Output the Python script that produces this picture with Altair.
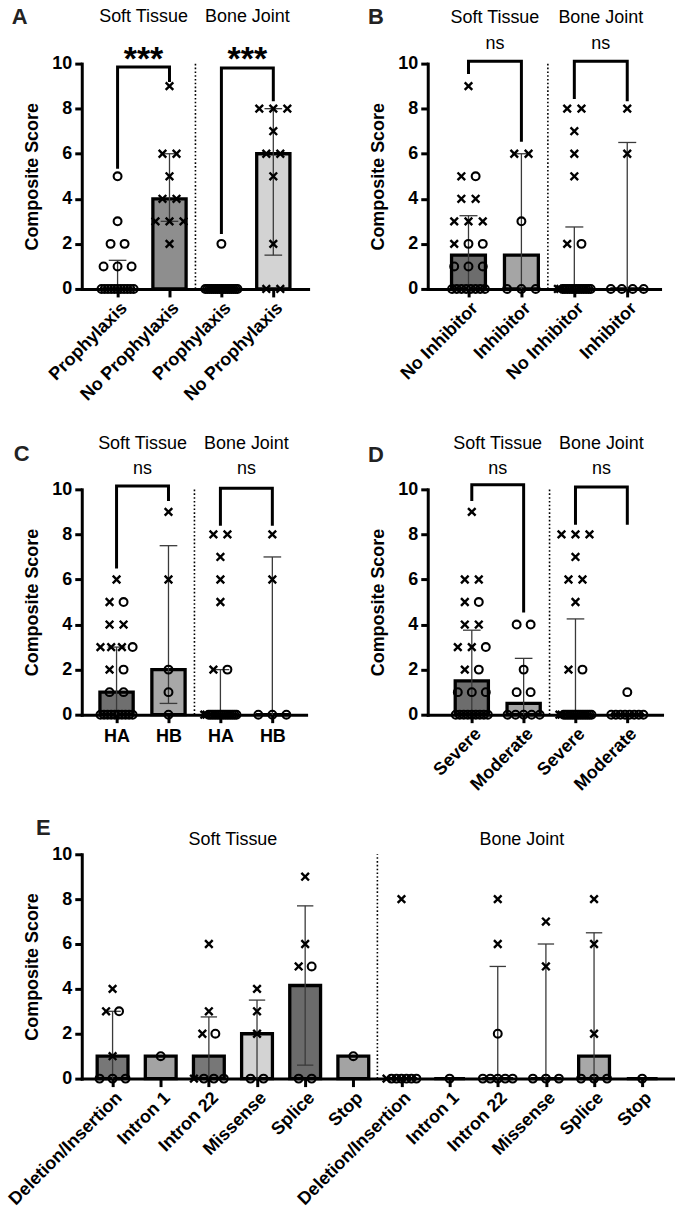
import json
from collections import OrderedDict

import altair as alt
import pandas as pd

FONT = "Liberation Sans"

# ---------------- A: prophylaxis ----------------
A_labels = ["Prophylaxis", "No Prophylaxis", "Prophylaxis", "No Prophylaxis"]
A_median = [0, 4, 0, 6]
A_q1 = [0, 3, 0, 1.5]
A_q3 = [1.27, 6, 0, 8]
A_cross = [[], [9, 6, 6, 5, 4, 4, 3, 3, 3, 2], [], [8, 8, 8, 7, 6, 6, 5, 2, 0, 0]]
A_circle = [
    [5, 3, 2, 2, 1, 1, 1, 0, 0, 0, 0, 0, 0, 0, 0, 0, 0, 0],
    [],
    [2, 0, 0, 0, 0, 0, 0, 0, 0, 0, 0, 0, 0, 0, 0, 0, 0, 0],
    [],
]
A_sig = ["***", "***"]
# bracket: [left leg bottom, top, right leg bottom]
A_bracket = [[5.4, 9.85, 9.25], [2.5, 9.8, 8.4]]

# ---------------- B: inhibitor ----------------
B_labels = ["No Inhibitor", "Inhibitor", "No Inhibitor", "Inhibitor"]
B_median = [1.5, 1.5, 0, 0]
B_q1 = [0, 0, 0, 0]
B_q3 = [3.25, 6, 2.75, 6.5]
B_cross = [[9, 5, 4, 4, 3, 3, 3, 2], [6, 6], [8, 8, 7, 6, 5, 2, 0, 0], [8, 6]]
B_circle = [
    [5, 2, 2, 1, 1, 1, 0, 0, 0, 0, 0, 0, 0, 0],
    [3, 0, 0, 0],
    [2, 0, 0, 0, 0, 0, 0, 0, 0, 0, 0, 0, 0, 0],
    [0, 0, 0, 0],
]
B_sig = ["ns", "ns"]
B_bracket = [[9.6, 10.1, 6.6], [8.5, 10.1, 8.4]]

# ---------------- C: haemophilia type ----------------
C_labels = ["HA", "HB", "HA", "HB"]
C_median = [1, 2, 0, 0]
C_q1 = [0, 0.5, 0, 0]
C_q3 = [3, 7.5, 2, 7]
C_cross = [[6, 5, 4, 4, 3, 3, 3, 2], [9, 6], [8, 8, 7, 6, 5, 2, 0, 0], [8, 6]]
C_circle = [
    [5, 3, 2, 1, 1, 0, 0, 0, 0, 0, 0, 0, 0, 0, 0],
    [2, 1, 0],
    [2, 0, 0, 0, 0, 0, 0, 0, 0, 0, 0, 0, 0, 0, 0],
    [0, 0, 0],
]
C_sig = ["ns", "ns"]
C_bracket = [[6.55, 10.15, 9.55], [8.45, 10.05, 8.45]]

# ---------------- D: severity ----------------
D_labels = ["Severe", "Moderate", "Severe", "Moderate"]
D_median = [1.5, 0.5, 0, 0]
D_q1 = [0, 0, 0, 0]
D_q3 = [3.75, 2.5, 4.25, 0]
D_cross = [[9, 6, 6, 5, 4, 4, 3, 3, 2], [], [8, 8, 8, 7, 6, 6, 5, 2, 0, 0], []]
D_circle = [
    [5, 3, 2, 1, 1, 1, 0, 0, 0, 0, 0, 0, 0, 0, 0],
    [4, 4, 2, 1, 1, 0, 0, 0, 0, 0],
    [2, 0, 0, 0, 0, 0, 0, 0, 0, 0, 0, 0, 0, 0, 0],
    [1, 0, 0, 0, 0, 0, 0, 0, 0],
]
D_sig = ["ns", "ns"]
D_bracket = [[9.55, 10.2, 4.6], [8.5, 10.1, 8.5]]

# ---------------- E: mutation type ----------------
E_labels = ["Deletion/Insertion", "Intron 1", "Intron 22", "Missense", "Splice", "Stop",
            "Deletion/Insertion", "Intron 1", "Intron 22", "Missense", "Splice", "Stop"]
E_median = [1, 1, 1, 2, 4.15, 1, 0, 0, 0, 0, 1, 0]
E_q1 = [0, 1, 0, 0, 0.6, 1, 0, 0, 0, 0, 0, 0]
E_q3 = [3, 1, 2.75, 3.5, 7.7, 1, 0, 0, 5, 6, 6.5, 0]
E_cross = [[4, 3, 1], [], [6, 3, 2, 0], [4, 3, 2], [9, 6, 5], [],
           [8, 0], [], [8, 6], [7, 5], [8, 6, 2], []]
E_circle = [[3, 0, 0, 0], [1], [2, 0, 0, 0], [0, 0], [5, 0, 0], [1],
            [0, 0, 0, 0, 0, 0], [0], [2, 0, 0, 0, 0, 0], [0, 0, 0], [0, 0, 0], [0]]

HALVES = ["Soft Tissue", "Bone Joint"]

# bar fills
A_fill = ["#8e8e8e", "#8e8e8e", "#d3d3d3", "#d3d3d3"]
B_fill = ["#6d6d6d", "#a5a5a5", "#6d6d6d", "#a5a5a5"]
C_fill = ["#6f6f6f", "#a8a8a8", "#6f6f6f", "#a8a8a8"]
D_fill = ["#6d6d6d", "#a4a4a4", "#6d6d6d", "#a4a4a4"]
E_fill = ["#777777", "#a3a3a3", "#777777", "#d3d3d3", "#6b6b6b", "#a3a3a3",
          "#777777", "#a3a3a3", "#777777", "#d3d3d3", "#a8a8a8", "#a3a3a3"]

BAR_HALF = 0.32
CAP_HALF = 0.17
CROSS_PATH = "M-1,-1L1,1M-1,1L1,-1"


def scatter_rows(i, crosses, circles):
    """Spread tied values sideways around the group centre."""
    ties = OrderedDict()
    for v in crosses:
        ties.setdefault(v, []).append("x")
    for v in circles:
        ties.setdefault(v, []).append("o")
    rows = []
    for v, marks in ties.items():
        n = len(marks)
        step = 0 if n == 1 else min(0.27, 0.62 / (n - 1))
        for k, m in enumerate(marks):
            rows.append({"x": i + (k - (n - 1) / 2) * step, "y": v, "m": m})
    return rows


def build_panel(letter, letter_xy, labels, median, q1, q3, cross, circle, fills,
                xdom, width, height, angle, title_y, sig=None, sig_y=None,
                sig_size=18, sig_bold=False, brackets=None):
    n = len(labels)
    half = n // 2
    xs = alt.Scale(domain=xdom, nice=False, zero=False)
    ys = alt.Scale(domain=[0, 10], nice=False)
    if angle:
        lab = dict(labelAngle=angle, labelAlign="right", labelBaseline="top", labelPadding=2)
    else:
        lab = dict(labelAngle=0, labelAlign="center", labelBaseline="top", labelPadding=5)
    x_axis = alt.Axis(
        values=list(range(n)),
        labelExpr=json.dumps(labels) + "[datum.value]",
        title=None,
        tickSize=8,
        labelFontSize=18,
        labelOverlap=False,
        labelFlush=False,
        domainCap="square",
        **lab,
    )
    y_axis = alt.Axis(
        values=[0, 2, 4, 6, 8, 10],
        title="Composite Score",
        tickSize=7,
        labelPadding=3,
        titlePadding=10,
        labelOverlap=False,
        domainCap="square",
    )

    def X(f):
        return alt.X(f"{f}:Q", scale=xs, axis=x_axis)

    def Y(f):
        return alt.Y(f"{f}:Q", scale=ys, axis=y_axis)

    bars = pd.DataFrame({
        "x0": [i - BAR_HALF for i in range(n)],
        "x1": [i + BAR_HALF for i in range(n)],
        "y": median,
        "base": [0] * n,
        "fill": fills,
    })
    err_rows, cap_rows = [], []
    for i in range(n):
        if q3[i] > q1[i]:
            err_rows.append({"x": i, "lo": q1[i], "hi": q3[i]})
            cap_rows.append({"c0": i - CAP_HALF, "c1": i + CAP_HALF, "y": q3[i]})
            if q1[i] > 0:
                cap_rows.append({"c0": i - CAP_HALF, "c1": i + CAP_HALF, "y": q1[i]})
    pts = []
    for i in range(n):
        pts += scatter_rows(i, cross[i], circle[i])
    pts = pd.DataFrame(pts)

    layers = [
        alt.Chart(bars).mark_bar(stroke="black", strokeWidth=3.3).encode(
            x=X("x0"), x2="x1", y=Y("y"), y2="base",
            fill=alt.Fill("fill:N", scale=None)),
        alt.Chart(pd.DataFrame(err_rows)).mark_rule(color="#3a3a3a", strokeWidth=1.3).encode(
            x=X("x"), y=Y("lo"), y2="hi"),
        alt.Chart(pd.DataFrame(cap_rows)).mark_rule(color="#3a3a3a", strokeWidth=1.3).encode(
            x=X("c0"), x2="c1", y=Y("y")),
        alt.Chart(pts[pts.m == "x"]).mark_point(
            shape=CROSS_PATH, filled=False, strokeWidth=2.4, size=58, color="black", opacity=1
        ).encode(x=X("x"), y=Y("y")),
        alt.Chart(pts[pts.m == "o"]).mark_point(
            shape="circle", filled=False, strokeWidth=2.1, size=62, color="black", opacity=1
        ).encode(x=X("x"), y=Y("y")),
        alt.Chart(pd.DataFrame({"x": [half - 0.5], "y0": [0], "y1": [10]})).mark_rule(
            color="black", strokeWidth=1.6, strokeDash=[1.6, 2.2]
        ).encode(x=X("x"), y=Y("y0"), y2="y1"),
    ]

    if brackets is not None:
        brows = []
        for b, (left, top, right) in enumerate(brackets):
            g0, g1 = 2 * b, 2 * b + 1
            for k, (bx, by) in enumerate([(g0, left), (g0, top), (g1, top), (g1, right)]):
                brows.append({"id": b, "k": k, "x": bx, "y": by})
        layers.append(
            alt.Chart(pd.DataFrame(brows)).mark_line(
                color="black", strokeWidth=3, strokeJoin="miter", strokeCap="square"
            ).encode(x=X("x"), y=Y("y"), detail="id:N", order="k:Q"))

    mid = [(half - 1) / 2, half + (half - 1) / 2]
    layers.append(
        alt.Chart(pd.DataFrame({"x": mid, "y": [title_y] * 2, "t": HALVES})).mark_text(
            font=FONT, fontSize=18, color="black", baseline="alphabetic"
        ).encode(x=X("x"), y=Y("y"), text="t:N"))
    if sig is not None:
        layers.append(
            alt.Chart(pd.DataFrame({"x": [0.5, 2.5], "y": [sig_y] * 2, "t": sig})).mark_text(
                font=FONT, fontSize=sig_size, color="black", baseline="alphabetic",
                fontWeight="bold" if sig_bold else "normal"
            ).encode(x=X("x"), y=Y("y"), text="t:N"))
    layers.append(
        alt.Chart(pd.DataFrame({"x": [letter_xy[0]], "y": [letter_xy[1]], "t": [letter]})).mark_text(
            font=FONT, fontSize=22, fontWeight="bold", color="#222222",
            align="left", baseline="alphabetic"
        ).encode(x=X("x"), y=Y("y"), text="t:N"))

    return alt.layer(*layers).properties(width=width, height=height)


pA = build_panel("A", (-2.04, 11.77), A_labels, A_median, A_q1, A_q3, A_cross, A_circle, A_fill,
                 [-0.69, 3.67], 227, 226, -45, 11.86, A_sig, 9.7, 34, True, A_bracket)
pB = build_panel("B", (-1.90, 11.77), B_labels, B_median, B_q1, B_q3, B_cross, B_circle, B_fill,
                 [-0.77, 3.62], 233, 226, -45, 11.8, B_sig, 10.66, 18, False, B_bracket)
pC = build_panel("C", (-1.98, 11.24), C_labels, C_median, C_q1, C_q3, C_cross, C_circle, C_fill,
                 [-0.67, 3.65], 225, 226, 0, 11.8, C_sig, 10.66, 18, False, C_bracket)
pD = build_panel("D", (-2.0, 11.2), D_labels, D_median, D_q1, D_q3, D_cross, D_circle, D_fill,
                 [-0.85, 3.67], 235, 226, -45, 11.8, D_sig, 10.66, 18, False, D_bracket)
pE = build_panel("E", (-1.59, 10.84), E_labels, E_median, E_q1, E_q3, E_cross, E_circle, E_fill,
                 [-0.64, 11.64], 593, 225, -45, 10.4)

# Nested concat groups count as zero height under flush bounds,
# so the spacings below run from one row's plot top to the next.
row1 = alt.hconcat(pA, pB, spacing=120, bounds="flush")
row2 = alt.hconcat(pC, pD, spacing=122, bounds="flush")
rows12 = alt.vconcat(row1, row2, spacing=427, bounds="flush")

chart = alt.vconcat(rows12, pE, spacing=793, bounds="flush").properties(
    padding={"left": 5, "top": 3, "right": 5, "bottom": 5},
    background="white",
).configure_view(stroke=None).configure_axis(
    domainColor="black", domainWidth=3, tickColor="black", tickWidth=3,
    labelColor="black", labelFont=FONT, labelFontSize=18, labelFontWeight="bold",
    titleColor="black", titleFont=FONT, titleFontSize=18, titleFontWeight="bold",
    grid=False,
)

chart.save("out.html", embed_options={"renderer": "svg", "actions": False})
